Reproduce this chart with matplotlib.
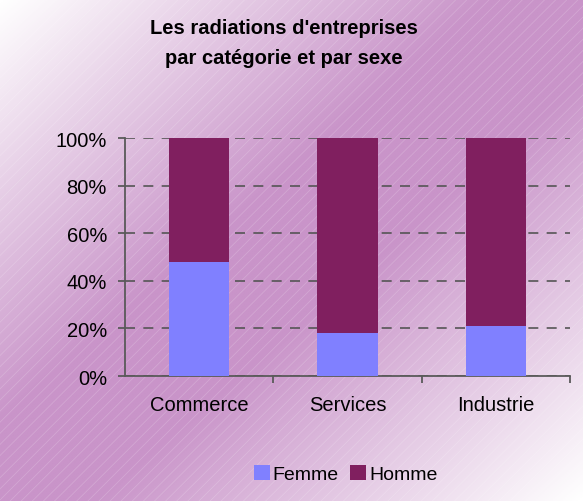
import numpy as np
import matplotlib
matplotlib.use('Agg')
import matplotlib.pyplot as plt
from matplotlib.colors import LinearSegmentedColormap
from matplotlib.patches import Rectangle

##  Données  ##
categories = ['Commerce', 'Services', 'Industrie']
femme = [47.8, 18.1, 21.0]
homme = [100 - v for v in femme]
yticks = [0, 20, 40, 60, 80, 100]
ytick_labels = ['0%', '20%', '40%', '60%', '80%', '100%']

plt.rcParams['font.family'] = ['Liberation Sans', 'DejaVu Sans']

fig = plt.figure(figsize=(5.83, 5.02), dpi=100)

##  Fond dégradé  ##
bg = fig.add_axes([0, 0, 1, 1], zorder=-10)
yy, xx = np.mgrid[0:1:300j, 0:1:300j]
t = (xx + yy) / 2
cmap = LinearSegmentedColormap.from_list(
    'fond', [(0, '#ffffff'), (0.42, '#c994c9'), (0.58, '#c994c9'), (1, '#ffffff')])
bg.imshow(t, cmap=cmap, extent=[0, 1, 0, 1], origin='upper', aspect='auto', vmin=0, vmax=1)
plt.rcParams['hatch.linewidth'] = 0.6
bg.add_patch(Rectangle((0, 0), 1, 1, transform=bg.transAxes, facecolor='none',
                       edgecolor=(1, 1, 1, 0.18), hatch='///', linewidth=0))
bg.set_xlim(0, 1)
bg.set_ylim(0, 1)
bg.axis('off')

##  Titre  ##
fig.text(0.487, 0.913, "Les radiations d'entreprises\npar catégorie et par sexe",
         ha='center', va='center', fontsize=14.5, fontweight='bold', linespacing=1.7)

##  Axe  ##
ax = fig.add_axes([0.2144, 0.249, 0.7633, 0.4741])
ax.patch.set_alpha(0)
x = np.arange(len(categories))
b1 = ax.bar(x, femme, width=0.405, color='#8080ff', label='Femme', zorder=3)
b2 = ax.bar(x, homme, bottom=femme, width=0.405, color='#801f5f', label='Homme', zorder=3)

ax.set_xlim(-0.5, 2.5)
ax.set_ylim(0, 100)
ax.set_yticks(yticks)
ax.set_yticklabels(ytick_labels)
ax.set_xticks(x)
ax.set_xticklabels(categories)
ax.set_xticks([0.5, 1.5, 2.5], minor=True)
ax.tick_params(axis='x', which='major', length=0, pad=14, labelsize=14.5)
ax.tick_params(axis='x', which='minor', length=5, color='#5a5a5a', width=1.3)
ax.tick_params(axis='y', length=5, color='#5a5a5a', width=1.3, pad=8, labelsize=14.5)
ax.yaxis.grid(True, linestyle=(0, (6, 5)), color='#555555', linewidth=1.2, zorder=0)
for s in ['top', 'right']:
    ax.spines[s].set_visible(False)
for s in ['left', 'bottom']:
    ax.spines[s].set_color('#5a5a5a')
    ax.spines[s].set_linewidth(1.3)

##  Légende  ##
fig.legend(handles=[b1, b2], labels=['Femme', 'Homme'], loc='center',
           bbox_to_anchor=(0.593, 0.054), ncol=2, frameon=False, fontsize=14,
           handlelength=0.8, handleheight=0.8, handletextpad=0.15, columnspacing=0.6)

fig.savefig('out.png', dpi=100)
